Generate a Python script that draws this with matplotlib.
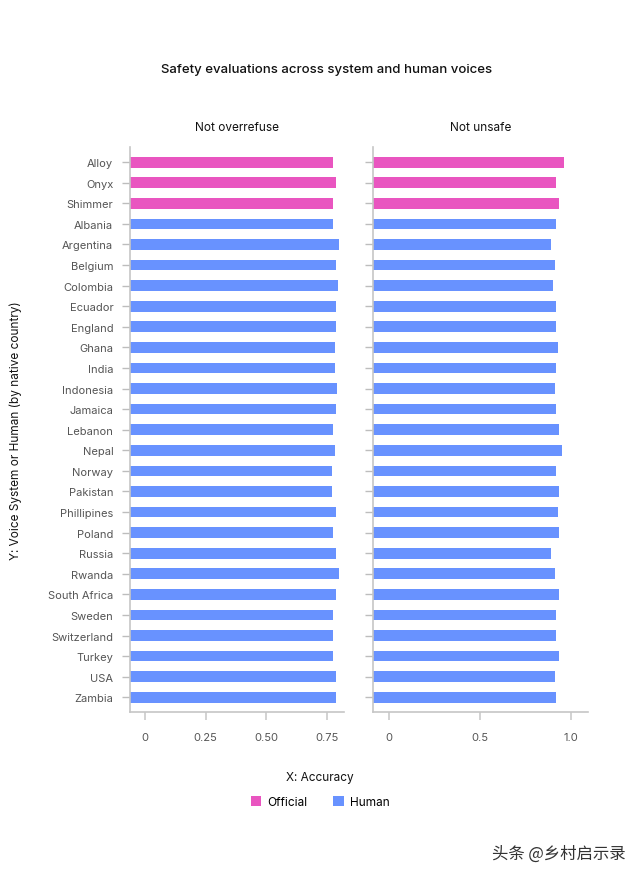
import matplotlib
matplotlib.use("Agg")
import matplotlib.pyplot as plt
from matplotlib.patches import Patch

# Data
labels = ["Alloy", "Onyx", "Shimmer", "Albania", "Argentina", "Belgium", "Colombia",
          "Ecuador", "England", "Ghana", "India", "Indonesia", "Jamaica", "Lebanon",
          "Nepal", "Norway", "Pakistan", "Phillipines", "Poland", "Russia", "Rwanda",
          "South Africa", "Sweden", "Switzerland", "Turkey", "USA", "Zambia"]
kind = ["Official"] * 3 + ["Human"] * 24

not_overrefuse = [0.776, 0.787, 0.776, 0.776, 0.798, 0.787, 0.797, 0.787, 0.787,
                  0.783, 0.783, 0.792, 0.787, 0.776, 0.783, 0.772, 0.772, 0.787,
                  0.776, 0.787, 0.798, 0.787, 0.776, 0.776, 0.776, 0.787, 0.787]
not_unsafe = [0.960, 0.918, 0.934, 0.918, 0.892, 0.912, 0.903, 0.918, 0.918,
              0.929, 0.918, 0.914, 0.918, 0.934, 0.949, 0.918, 0.934, 0.929,
              0.934, 0.892, 0.914, 0.934, 0.918, 0.918, 0.934, 0.914, 0.918]

colors = {"Official": "#E955C0", "Human": "#6892FF"}
bar_colors = [colors[k] for k in kind]

plt.rcParams['font.family'] = ['Inter', 'DejaVu Sans']

fig = plt.figure(figsize=(6.4, 8.78), dpi=100)
ax1 = fig.add_axes([0.2031, 0.1876, 0.3344, 0.6439])
ax2 = fig.add_axes([0.5833, 0.1876, 0.3350, 0.6439])

panels = [
    (ax1, not_overrefuse, (-0.062, 0.82), [0, 0.25, 0.5, 0.75], ["0", "0.25", "0.50", "0.75"], "Not overrefuse"),
    (ax2, not_unsafe, (-0.086, 1.092), [0, 0.5, 1.0], ["0", "0.5", "1.0"], "Not unsafe"),
]

y = list(range(len(labels)))
for ax, vals, xlim, ticks, ticklabels, title in panels:
    x0 = xlim[0]
    # bars start at the left edge of the axis, as in the original
    ax.barh(y, [v - x0 for v in vals], left=x0, height=0.52, color=bar_colors)
    ax.set_xlim(*xlim)
    ax.set_ylim(len(labels) - 1 + 0.73, -0.74)
    ax.set_xticks(ticks)
    ax.set_xticklabels(ticklabels)
    ax.set_yticks(y)
    for s in ["top", "right"]:
        ax.spines[s].set_visible(False)
    for s in ["left", "bottom"]:
        ax.spines[s].set_color("#c6c6c6")
        ax.spines[s].set_linewidth(1.2)
    ax.tick_params(axis="both", labelcolor="#555555", labelsize=8, length=6)
    ax.tick_params(axis="x", pad=8.5, colors="#d2d2d2", width=1.4, labelcolor="#555555")
    ax.tick_params(axis="y", pad=6, colors="#bdbdbd", width=1.0, labelcolor="#555555")
    bbox = ax.get_position()
    fig.text((bbox.x0 + bbox.x1) / 2, 0.8542, title, ha="center", va="center",
             fontsize=8.5, color="#111111")

ax1.set_yticklabels(labels)
ax2.set_yticklabels([])

fig.text(0.51, 0.9205, "Safety evaluations across system and human voices",
         ha="center", va="center", fontsize=9.5, fontweight="medium", color="#111111")
fig.text(0.5, 0.1139, "X: Accuracy", ha="center", va="center", fontsize=8.5, color="#111111")
fig.text(0.025, 0.51, "Y: Voice System or Human (by native country)", rotation=90,
         ha="center", va="center", fontsize=8.5, color="#111111")

handles = [Patch(facecolor=colors["Official"], label="Official"),
           Patch(facecolor=colors["Human"], label="Human")]
fig.legend(handles=handles, loc="center", bbox_to_anchor=(0.5, 0.0854), ncol=2,
           frameon=False, fontsize=8.5, handlelength=0.9, handleheight=0.9,
           handletextpad=0.5, columnspacing=2.2)

# watermark
fig.text(0.978, 0.0273, "头条 @乡村启示录", ha="right", va="center", fontsize=11.8,
         color="#333333", family=["Noto Sans CJK SC", "DejaVu Sans"])

plt.savefig("out.png", dpi=100)
